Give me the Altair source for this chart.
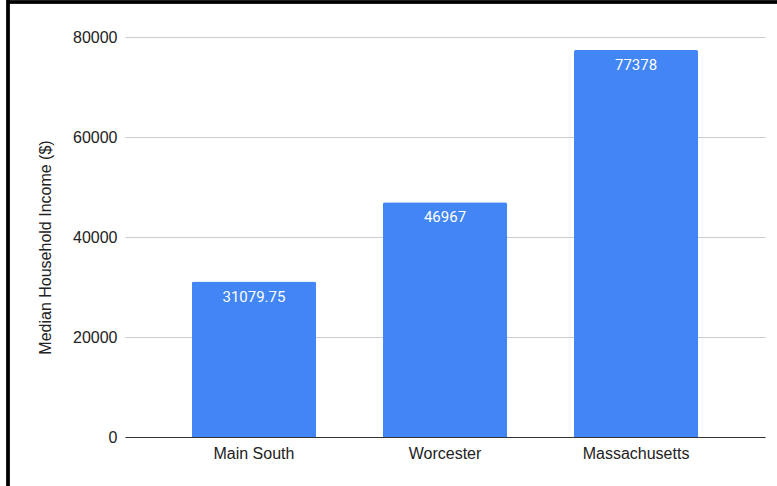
import altair as alt
import pandas as pd

# Median household income by area
areas = ["Main South", "Worcester", "Massachusetts"]
incomes = [31079.75, 46967, 77378]
income_labels = ["31079.75", "46967", "77378"]

df = pd.DataFrame({"area": areas, "income": incomes, "label": income_labels})

x_enc = alt.X(
    "area:N",
    sort=areas,
    title=None,
    scale=alt.Scale(paddingInner=0.35, paddingOuter=0.35),
    axis=alt.Axis(
        labelAngle=0,
        labelFont="Liberation Sans",
        labelFontSize=16,
        labelColor="#222222",
        labelPadding=8,
        ticks=False,
        domainColor="#333333",
        domainWidth=1,
        grid=False,
    ),
)

y_enc = alt.Y(
    "income:Q",
    title="Median Household Income ($)",
    scale=alt.Scale(domain=[0, 80000], nice=False),
    axis=alt.Axis(
        values=[0, 20000, 40000, 60000, 80000],
        format="d",
        labelFont="Liberation Sans",
        labelFontSize=16,
        labelColor="#222222",
        labelPadding=8,
        ticks=False,
        domain=False,
        gridColor="#cccccc",
        gridWidth=1,
        titleFont="Liberation Sans",
        titleFontSize=16,
        titleFontWeight="normal",
        titleColor="#222222",
        titlePadding=19,
        titleY=210,
    ),
)

bars = alt.Chart(df).mark_bar(
    color="#4285F4",
    cornerRadiusTopLeft=2,
    cornerRadiusTopRight=2,
).encode(x=x_enc, y=y_enc)

labels = alt.Chart(df).mark_text(
    baseline="top",
    dy=8,
    font="Roboto",
    fontSize=15,
    color="#ffffff",
).encode(
    x=alt.X("area:N", sort=areas),
    y="income:Q",
    text="label:N",
)

# Page frame on the left and top edges
frame_left = alt.Chart(df).mark_rule(color="#000000", strokeWidth=3).encode(
    x=alt.value(-117), y=alt.value(-37), y2=alt.value(449)
)
frame_top = alt.Chart(df).mark_rule(color="#000000", strokeWidth=3).encode(
    x=alt.value(-118), x2=alt.value(652), y=alt.value(-35)
)

chart = (
    alt.layer(bars, labels, frame_left, frame_top)
    .properties(
        width=640,
        height=400,
        autosize=alt.AutoSizeParams(type="none"),
        padding={"left": 125, "top": 37, "right": 12, "bottom": 49},
        background="#ffffff",
    )
    .configure_view(stroke=None)
)

chart.save("out.html", embed_options={"renderer": "svg", "actions": False})
